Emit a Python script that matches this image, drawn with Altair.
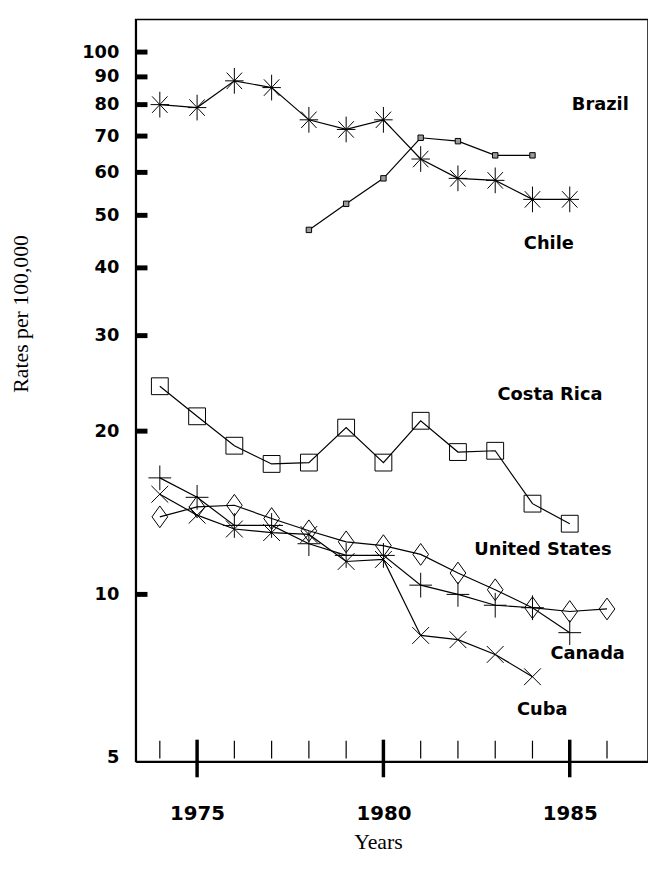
import altair as alt
import pandas as pd

# ---- data ----
years_brazil = list(range(1974, 1986))
brazil = [80, 79, 88.5, 86, 75, 72, 75, 63.5, 58.5, 58, 53.5, 53.5]
years_chile = list(range(1978, 1985))
chile = [47, 52.5, 58.5, 69.5, 68.5, 64.5, 64.5]
years_costa = list(range(1974, 1986))
costa_rica = [24.2, 21.3, 18.8, 17.4, 17.5, 20.3, 17.5, 20.9, 18.3, 18.4, 14.7, 13.5]
years_us = list(range(1974, 1987))
united_states = [13.9, 14.5, 14.6, 13.8, 13.1, 12.5, 12.3, 11.85, 10.95, 10.2, 9.45, 9.3, 9.4]
years_canada = list(range(1974, 1986))
canada = [16.4, 15.1, 13.4, 13.4, 12.4, 11.8, 11.8, 10.4, 10.0, 9.55, 9.45, 8.5]
years_cuba = list(range(1974, 1985))
cuba = [15.3, 14.0, 13.2, 13.0, 12.9, 11.5, 11.6, 8.4, 8.25, 7.75, 7.05]

label_text = ["Brazil", "Chile", "Costa Rica", "United States", "Canada", "Cuba"]
label_year = [1985.82, 1984.44, 1984.47, 1984.28, 1985.48, 1984.26]
label_rate = [79.7, 44.3, 23.3, 12.08, 7.77, 6.12]

y_label_values = [5, 10, 20, 30, 40, 50, 60, 70, 80, 90, 100]
y_bar_values = [10, 20, 30, 40, 50, 60, 70, 80, 90, 100]
x_label_years = [1975, 1980, 1985]
minor_years = list(range(1974, 1987))

series = {
    "Brazil": (years_brazil, brazil),
    "Chile": (years_chile, chile),
    "Costa Rica": (years_costa, costa_rica),
    "United States": (years_us, united_states),
    "Canada": (years_canada, canada),
    "Cuba": (years_cuba, cuba),
}
rows = []
for name, (yrs, vals) in series.items():
    for yr, v in zip(yrs, vals):
        rows.append({"country": name, "year": yr, "rate": v})
df = pd.DataFrame(rows)

xscale = alt.Scale(domain=[1973.35, 1987.1], nice=False, zero=False)
yscale = alt.Scale(type="log", domain=[4.92, 114.8], nice=False)

LABEL_FONT = "DejaVu Sans"
TITLE_FONT = "Liberation Serif"

x_axis = alt.Axis(values=x_label_years, format="d", ticks=False, labelPadding=43,
                  labelFont=LABEL_FONT, labelFontWeight="bold", labelFontSize=20,
                  labelColor="black", domainColor="black", domainWidth=2, grid=False,
                  labelOverlap=False, labelFlush=False,
                  title="Years", titleFont=TITLE_FONT, titleFontSize=22,
                  titleFontWeight="normal", titleColor="black",
                  titleX=245, titleY=81, titleAlign="center", titleBaseline="middle")
y_axis = alt.Axis(values=y_label_values, ticks=False, labelPadding=17,
                  labelFont=LABEL_FONT, labelFontWeight="bold", labelFontSize=18,
                  labelColor="black", domainColor="black", domainWidth=2, grid=False,
                  labelOverlap=False, labelFlush=False, labelBaseline="middle",
                  title="Rates per 100,000", titleFont=TITLE_FONT, titleFontSize=22,
                  titleFontWeight="normal", titleColor="black",
                  titleX=-116, titleY=297, titleAngle=270, titleAlign="center",
                  titleBaseline="middle")

X = alt.X("year:Q", scale=xscale)
Y = alt.Y("rate:Q", scale=yscale)

lines = alt.Chart(df).mark_line(color="black", strokeWidth=1.2).encode(
    x=alt.X("year:Q", scale=xscale, axis=x_axis),
    y=alt.Y("rate:Q", scale=yscale, axis=y_axis),
    detail="country:N",
)

asterisk = "M0,-1L0,1M-0.72,0L0.72,0M-0.6,-0.64L0.6,0.64M-0.6,0.64L0.6,-0.64"
plus = "M-0.92,0L0.92,0M0,-1L0,1"
cross = "M-1,-1L1,1M-1,1L1,-1"
diamond = "M0,-1L0.72,0L0,1L-0.72,0Z"

marker_specs = {
    "Brazil": dict(shape=asterisk, size=676, filled=False),
    "Chile": dict(shape="square", size=30, filled=True),
    "Costa Rica": dict(shape="square", size=289, filled=False),
    "United States": dict(shape=diamond, size=484, filled=False),
    "Canada": dict(shape=plus, size=625, filled=False),
    "Cuba": dict(shape=cross, size=289, filled=False),
}

point_layers = []
for name, spec in marker_specs.items():
    if spec["filled"]:
        mk = alt.Chart(df).mark_point(shape=spec["shape"], size=spec["size"], filled=True,
                                      fill="#9a9a9a", stroke="black", strokeWidth=1,
                                      opacity=1, fillOpacity=1)
    else:
        mk = alt.Chart(df).mark_point(shape=spec["shape"], size=spec["size"], filled=False,
                                      stroke="black", strokeWidth=1, opacity=1)
    point_layers.append(
        mk.transform_filter(alt.datum.country == name).encode(x=X, y=Y)
    )

labels_df = pd.DataFrame({"label": label_text, "year": label_year, "rate": label_rate})
labels = alt.Chart(labels_df).mark_text(font=LABEL_FONT, fontWeight="bold", fontSize=18,
                                        align="center", baseline="middle", color="black").encode(
    x=X, y=Y, text="label:N",
)

ybars = alt.Chart(pd.DataFrame({"rate": y_bar_values})).mark_rule(
    color="black", strokeWidth=5).encode(
    y=Y, x=alt.value(0), x2=alt.value(12),
)
minor_ticks = alt.Chart(pd.DataFrame({"year": minor_years})).mark_rule(
    color="black", strokeWidth=1.2).encode(
    x=X, y=alt.value(729), y2=alt.value(747),
)
major_ticks = alt.Chart(pd.DataFrame({"year": x_label_years})).mark_rule(
    color="black", strokeWidth=3.5).encode(
    x=X, y=alt.value(728), y2=alt.value(766),
)

chart = alt.layer(lines, *point_layers, labels, ybars, minor_ticks, major_ticks).properties(
    width=518, height=750,
    autosize=alt.AutoSizeParams(type="none"),
    padding={"left": 129, "top": 7, "right": 0, "bottom": 100},
    background="white",
).configure_view(stroke="black", strokeWidth=1.5)

chart.save("out.html", embed_options={"renderer": "svg", "actions": False})
